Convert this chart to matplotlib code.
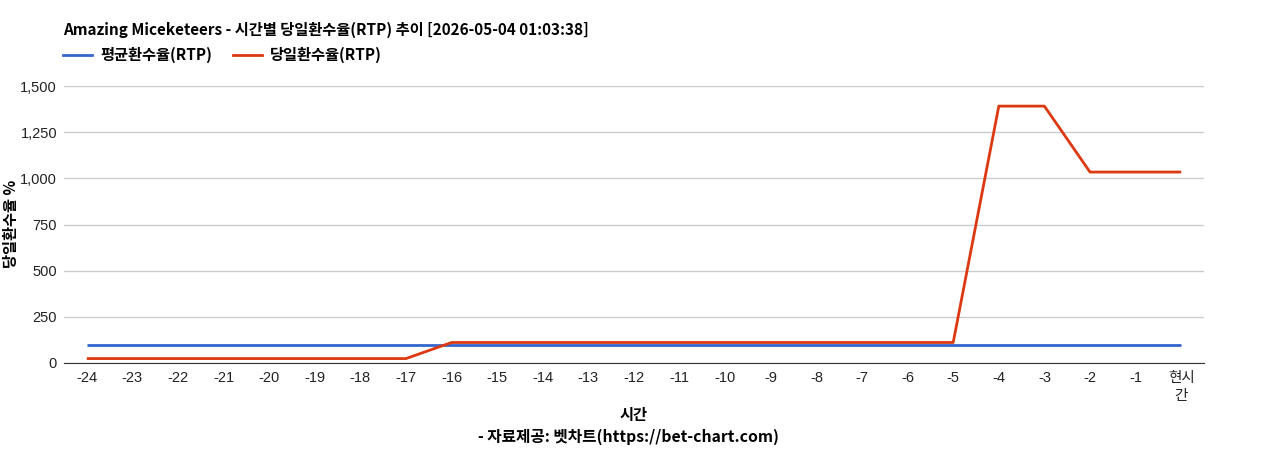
import matplotlib
matplotlib.use("Agg")
import matplotlib.pyplot as plt
from matplotlib.lines import Line2D

plt.rcParams['font.family'] = ['Liberation Sans', 'Noto Sans CJK KR', 'DejaVu Sans']

categories = ['-24', '-23', '-22', '-21', '-20', '-19', '-18', '-17', '-16', '-15', '-14', '-13',
              '-12', '-11', '-10', '-9', '-8', '-7', '-6', '-5', '-4', '-3', '-2', '-1', '현시\n간']
avg_rtp = [96] * 25
day_rtp = [24, 24, 24, 24, 24, 24, 24, 24, 111, 111, 111, 111, 111, 111, 111, 111, 111, 111, 111, 111,
           1391, 1391, 1034, 1034, 1034]
yticks = [0, 250, 500, 750, 1000, 1250, 1500]

title = 'Amazing Miceketeers - 시간별 당일환수율(RTP) 추이 [2026-05-04 01:03:38]'
series_names = ['평균환수율(RTP)', '당일환수율(RTP)']
colors = ['#3366cc', '#dc3912']

W, H = 1268, 450
CJK = ['Noto Sans CJK KR', 'DejaVu Sans']
fig = plt.figure(figsize=(W / 100, H / 100), dpi=100)
ax = fig.add_axes([64 / W, 1 - 363 / H, (1204 - 64) / W, (363 - 86) / H])

x = list(range(len(categories)))
ax.plot(x, avg_rtp, color=colors[0], lw=2, solid_capstyle='butt')
ax.plot(x, day_rtp, color=colors[1], lw=2, solid_capstyle='butt')

ax.set_xlim(-0.5, len(categories) - 0.5)
ax.set_ylim(0, 1500)
ax.set_yticks(yticks)
ax.set_yticklabels([f'{v:,}' for v in yticks])
ax.set_xticks(x)
ax.set_xticklabels(categories, linespacing=1.3)
ax.grid(axis='y', color='#cccccc', lw=1)
ax.set_axisbelow(True)
for s in ['top', 'right', 'left']:
    ax.spines[s].set_visible(False)
ax.spines['bottom'].set_color('#333333')
ax.tick_params(axis='both', length=0, labelsize=10.5, colors='#222222')
ax.tick_params(axis='x', pad=6)
ax.tick_params(axis='y', pad=5)

fig.text(63 / W, 1 - 30 / H, title, fontsize=11, fontweight='bold', va='center', ha='left',
         family=CJK, color='#000000')

# legend (manual, matches reference placement)
leg_y = 1 - 55 / H
for (x0, x1, tx), name, c in zip([(63, 92, 100), (233, 262, 270)], series_names, colors):
    fig.add_artist(Line2D([x0 / W, x1 / W], [leg_y, leg_y], color=c, lw=2, transform=fig.transFigure))
    fig.text(tx / W, leg_y, name, fontsize=11, fontweight='bold', va='center', ha='left', family=CJK)

fig.text(11 / W, 1 - 224 / H, '당일환수율 %', rotation=90, fontsize=11, fontweight='bold',
         va='center', ha='center', family=CJK)
fig.text(634 / W, 1 - 415 / H, '시간', fontsize=11, fontweight='bold', va='center', ha='center',
         family=CJK)
fig.text(629 / W, 1 - 437 / H, '- 자료제공: 벳차트(https://bet-chart.com)', fontsize=11.3,
         fontweight='bold', va='center', ha='center', family=CJK)

fig.savefig('out.png', dpi=100)
